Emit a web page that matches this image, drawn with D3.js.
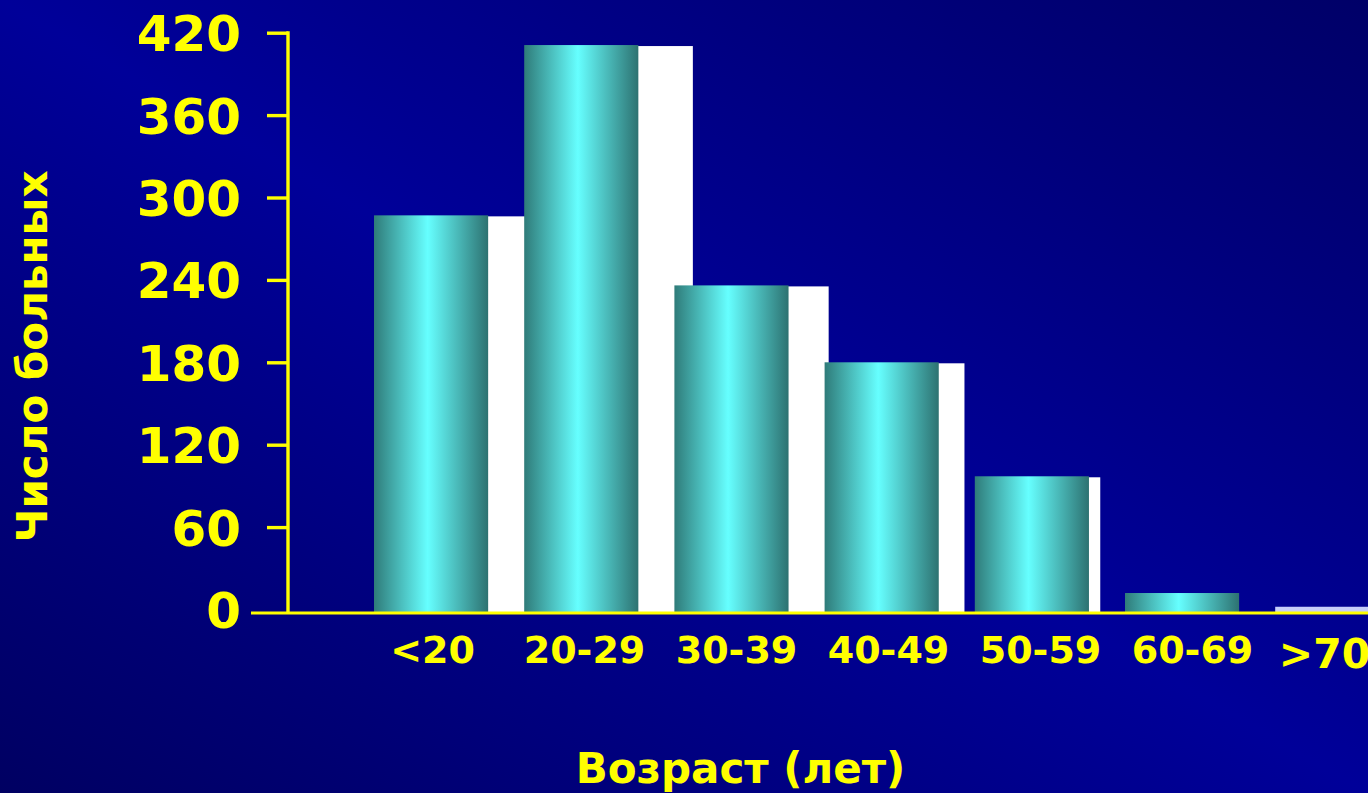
<!DOCTYPE html>
<html>
<head>
<meta charset="utf-8">
<script src="https://cdn.jsdelivr.net/npm/d3@7"></script>
<style>
  html, body { margin: 0; padding: 0; overflow: hidden; background: #000080; }
  svg { display: block; }
  text { font-family: "DejaVu Sans", Verdana, sans-serif; font-weight: bold; fill: #ffff00; }
</style>
</head>
<body>
<script>
// Age groups and number of patients in each group
const categories = ["<20", "20-29", "30-39", "40-49", "50-59", "60-69", ">70"];
const patients = [287, 411, 236, 180, 97, 12, 2];
const yTicks = [0, 60, 120, 180, 240, 300, 360, 420];
const xTitle = "Возраст (лет)";
const yTitle = "Число больных";

const W = 1368, H = 793;
const YELLOW = "#ffff00";
const axisY = 613;       // where the horizontal axis line sits
const axisX = 288;       // where the vertical axis line sits

const svg = d3.select("body").append("svg")
  .attr("width", W).attr("height", H);

const defs = svg.append("defs");

// dark blue slide background, brighter along the main diagonal
const bg = defs.append("linearGradient").attr("id", "bg")
  .attr("x1", 0).attr("y1", 1).attr("x2", 1).attr("y2", 0);
bg.append("stop").attr("offset", 0).attr("stop-color", "#000062");
bg.append("stop").attr("offset", 0.5).attr("stop-color", "#000099");
bg.append("stop").attr("offset", 1).attr("stop-color", "#000068");

// cylindrical teal shading for the bars
const teal = defs.append("linearGradient").attr("id", "teal")
  .attr("x1", 0).attr("y1", 0).attr("x2", 1).attr("y2", 0);
teal.append("stop").attr("offset", 0).attr("stop-color", "#2f7b79");
teal.append("stop").attr("offset", 0.47).attr("stop-color", "#66ffff");
teal.append("stop").attr("offset", 1).attr("stop-color", "#2d7271");

svg.append("rect").attr("width", W).attr("height", H).attr("fill", "url(#bg)");

// scales
const y = d3.scaleLinear().domain([0, 420]).range([609.5, 32.7]);

const xFront = d3.scaleBand().domain(categories)
  .range([374, 374 + 150.2 * (categories.length - 0.24)])
  .paddingInner(0.24).paddingOuter(0);

const xBack = d3.scaleBand().domain(categories)
  .range([462, 462 + 135.8 * (categories.length - 0.30)])
  .paddingInner(0.30).paddingOuter(0);

const xLabel = d3.scalePoint().domain(categories).range([432, 1344]);

const rows = categories.map((c, i) => ({ cat: c, value: patients[i], last: i === categories.length - 1 }));

// white depth faces behind the bars
svg.append("g").selectAll("rect").data(rows).join("rect")
  .attr("x", d => xBack(d.cat))
  .attr("y", d => y(d.value) + 1)
  .attr("width", xBack.bandwidth())
  .attr("height", d => axisY - y(d.value) - 1)
  .attr("fill", "#ffffff");

// front bars
svg.append("g").selectAll("rect").data(rows).join("rect")
  .attr("x", d => xFront(d.cat))
  .attr("y", d => y(d.value))
  .attr("width", xFront.bandwidth())
  .attr("height", d => axisY - y(d.value))
  .attr("fill", d => d.last ? "#c6cefa" : "url(#teal)");

// vertical axis
const yAxis = svg.append("g")
  .attr("transform", `translate(${axisX},0)`)
  .call(d3.axisLeft(y).tickValues(yTicks).tickSize(21).tickSizeOuter(0).tickPadding(26));
yAxis.select(".domain").remove();
yAxis.append("line")
  .attr("x1", 0).attr("x2", 0)
  .attr("y1", y(420) - 1.5).attr("y2", axisY)
  .attr("stroke", YELLOW).attr("stroke-width", 3.4);
yAxis.selectAll(".tick line")
  .attr("stroke", YELLOW).attr("stroke-width", 3.4)
  .attr("display", d => d === 0 ? "none" : null);   // the baseline stands in for the zero tick
yAxis.selectAll(".tick text")
  .attr("fill", YELLOW)
  .attr("font-size", 50)
  .attr("font-family", "DejaVu Sans")
  .attr("font-weight", "bold")
  .attr("dy", "0.36em");

// horizontal axis line and category labels
svg.append("line")
  .attr("x1", 251).attr("x2", W)
  .attr("y1", axisY).attr("y2", axisY)
  .attr("stroke", YELLOW).attr("stroke-width", 3.2);

const xAxis = svg.append("g")
  .attr("transform", `translate(0,${axisY})`)
  .call(d3.axisBottom(xLabel).tickSize(0).tickPadding(0));
xAxis.select(".domain").remove();
xAxis.selectAll(".tick text")
  .attr("fill", YELLOW)
  .attr("font-family", "DejaVu Sans")
  .attr("font-weight", "bold")
  .attr("font-size", (d, i) => i === categories.length - 1 ? 41 : 38)
  .attr("dy", null)
  .attr("y", (d, i) => i === categories.length - 1 ? 55 : 50)
  .attr("dx", (d, i) => i === categories.length - 1 ? -20 : 0);

// axis titles
svg.append("text")
  .attr("x", 740.5).attr("y", 783)
  .attr("text-anchor", "middle")
  .attr("font-size", 42)
  .text(xTitle);

svg.append("text")
  .attr("transform", "translate(46.5,356.5) rotate(-90)")
  .attr("text-anchor", "middle")
  .attr("font-size", 42)
  .text(yTitle);
</script>
</body>
</html>
